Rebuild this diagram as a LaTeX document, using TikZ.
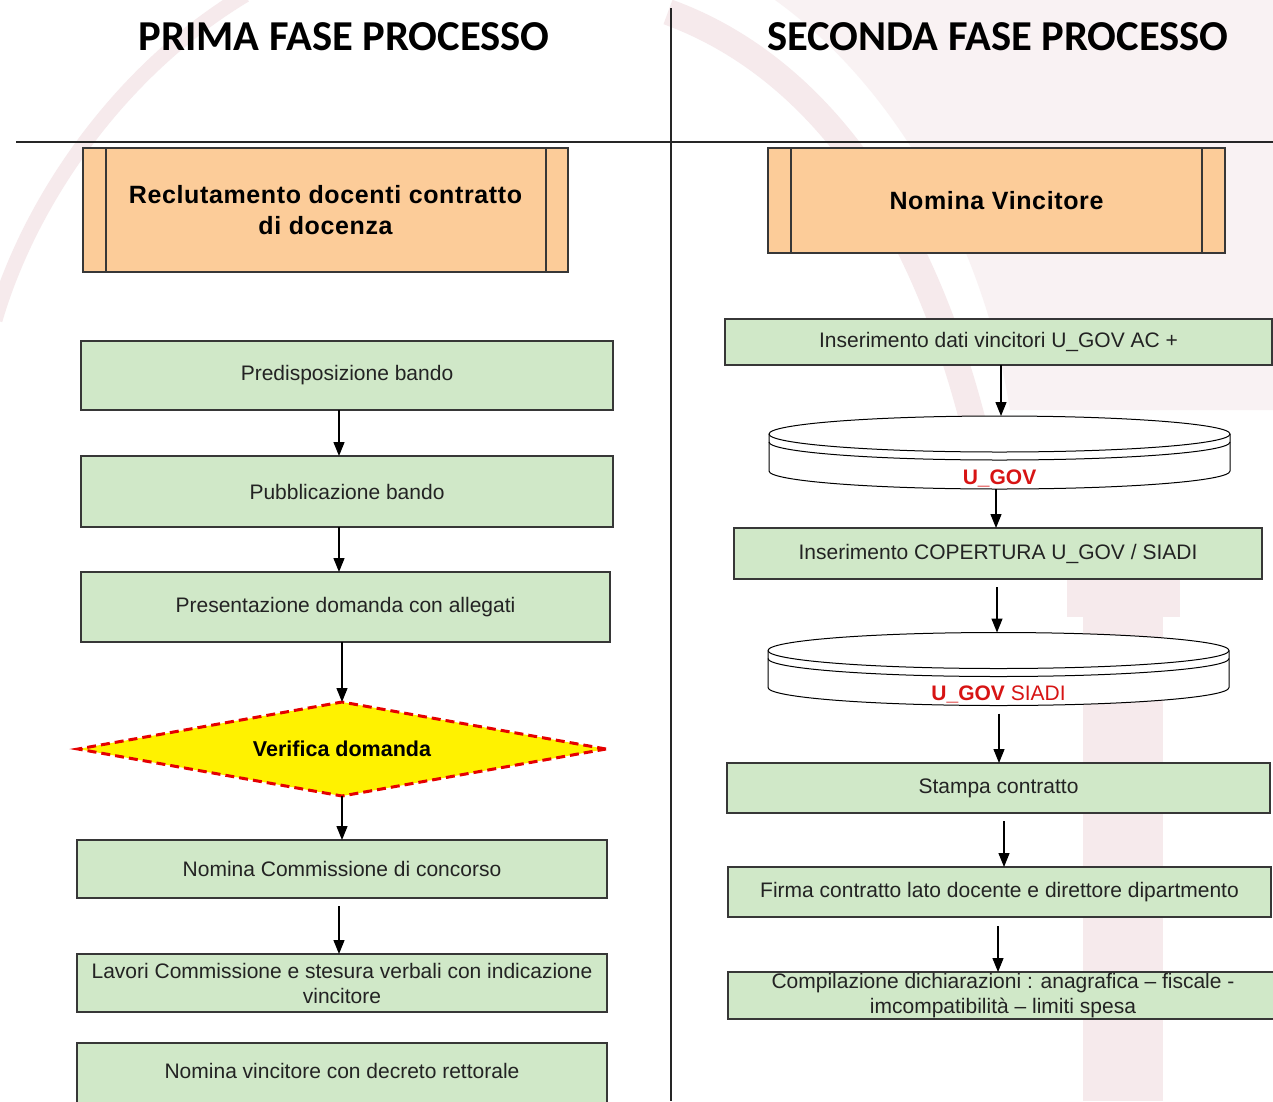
\documentclass[tikz,border=0pt]{standalone}
\usepackage{fontspec}
\setmainfont{Liberation Sans}
\newfontfamily\titlefont{Carlito}
\usetikzlibrary{arrows.meta,shapes.geometric}
\definecolor{boxgreen}{RGB}{208,232,200}
\definecolor{boxorange}{RGB}{252,204,153}
\definecolor{boxline}{RGB}{55,55,55}
\definecolor{txtcol}{RGB}{35,35,35}
\definecolor{wmpink}{RGB}{246,234,236}
\definecolor{wmlight}{RGB}{249,242,243}
\definecolor{ugovred}{RGB}{215,20,20}
\newcommand{\drawdisk}[2]{%
  \begin{scope}[shift={(#1,#2)}]
    \path[fill=white,draw=black,line width=1pt] (-230.5,18) -- (-230.5,55)
      arc[start angle=180,end angle=360,x radius=230.5pt,y radius=18pt]
      -- (230.5,18)
      arc[start angle=0,end angle=180,x radius=230.5pt,y radius=18pt] -- cycle;
    \draw[line width=1pt] (-230.5,18) arc[start angle=180,end angle=360,x radius=230.5pt,y radius=18pt];
    \draw[line width=1pt] (-230.5,26) arc[start angle=180,end angle=360,x radius=230.5pt,y radius=18pt];
  \end{scope}}
\begin{document}
\begin{tikzpicture}[x=1pt,y=-1pt,
  greenbox/.style={draw=boxline,fill=boxgreen,line width=1.2pt,inner sep=0,outer sep=0,
    align=center,text=txtcol,font=\fontsize{21}{25}\selectfont},
  orangebox/.style={draw=boxline,fill=boxorange,line width=1.2pt,inner sep=0,outer sep=0,
    align=center,text=black,font=\fontsize{25}{31}\selectfont\bfseries\addfontfeature{LetterSpace=2.5}},
  titletext/.style={font=\titlefont\fontsize{42.6}{48}\selectfont\bfseries,text=black,inner sep=0},
  diskbox/.style={minimum width=461,minimum height=73,inner sep=0,outer sep=0},
  disklabel/.style={font=\fontsize{21}{25}\selectfont,text=ugovred,inner sep=0,anchor=south,yshift=2pt},
  arr/.style={line width=1.3pt,-{Triangle[width=11pt,length=14pt]}},
  sep/.style={line width=1.3pt,draw=black!85}]
\clip (0,0) rectangle (1273,1101);
\fill[white] (0,0) rectangle (1273,1101);
% watermark
\fill[wmlight] (775,0) -- (1273,0) -- (1273,410) -- (1010,410)
  .. controls (985,250) and (900,90) .. (775,0) -- cycle;
\draw[wmpink,line width=15pt] (-5,320) .. controls (30,200) and (120,70) .. (245,-5);
\draw[wmpink,line width=26pt] (668,12) .. controls (800,60) and (915,190) .. (975,430);
\fill[wmpink] (1067,577) rectangle (1180,617);
\fill[wmpink] (1083,617) rectangle (1163,1101);
% titles and separators
\node[titletext] (t1) at (344,37) {PRIMA FASE PROCESSO};
\node[titletext] (t2) at (998,37) {SECONDA FASE PROCESSO};
\coordinate (hl) at (16,142);
\coordinate (hr) at (1273,142);
\coordinate (vt) at (671,8);
\coordinate (vb) at (671,1101);
\draw[sep] (hl) -- (hr);
\draw[sep] (vt) -- (vb);
% left column
\node[orangebox,minimum width=485,minimum height=124] (o1) at (325.5,210)
  {Reclutamento docenti contratto\\di docenza};
\draw[line width=1.2pt,boxline] ([xshift=23pt]o1.north west) -- ([xshift=23pt]o1.south west);
\draw[line width=1.2pt,boxline] ([xshift=-22pt]o1.north east) -- ([xshift=-22pt]o1.south east);
\node[greenbox,minimum width=532,minimum height=69] (p1) at (347,375.5) {Predisposizione bando};
\node[greenbox,minimum width=532,minimum height=71] (p2) at (347,491.5) {Pubblicazione bando};
\node[greenbox,minimum width=529,minimum height=70] (p3) at (345.5,607) {Presentazione domanda con allegati};
\node[diamond,draw=red!90!black,fill=yellow,line width=3pt,dash pattern=on 9pt off 5pt,
  minimum width=528,minimum height=94,inner sep=0,outer sep=0,aspect=5.6,
  font=\fontsize{21.5}{25}\selectfont\bfseries] (dia) at (342,749) {Verifica domanda};
\node[greenbox,minimum width=530,minimum height=58] (q5) at (342,869) {Nomina Commissione di concorso};
\node[greenbox,minimum width=530,minimum height=58] (q6) at (342,983)
  {Lavori Commissione e stesura verbali con indicazione\\vincitore};
\node[greenbox,minimum width=530,minimum height=80,text depth=24pt] (q7) at (342,1083)
  {Nomina vincitore con decreto rettorale};
\draw[arr] ([xshift=-8pt]p1.south) -- ([xshift=-8pt]p2.north);
\draw[arr] ([xshift=-8pt]p2.south) -- ([xshift=-6.5pt]p3.north);
\draw[arr] ([xshift=-3.5pt]p3.south) -- (dia.north);
\draw[arr] (dia.south) -- (q5.north);
\draw[arr] ([xshift=-3pt,yshift=-8pt]q5.south) -- ([xshift=-3pt]q6.north);
% right column
\node[orangebox,minimum width=457,minimum height=105] (o2) at (996.5,200.5) {Nomina Vincitore};
\draw[line width=1.2pt,boxline] ([xshift=23pt]o2.north west) -- ([xshift=23pt]o2.south west);
\draw[line width=1.2pt,boxline] ([xshift=-23pt]o2.north east) -- ([xshift=-23pt]o2.south east);
\node[greenbox,minimum width=547,minimum height=46] (r1) at (998.5,342) {Inserimento dati vincitori U\_GOV AC +};
\node[diskbox] (d1) at (999.5,452.5) {};
\drawdisk{999.5}{416}
\node[disklabel] (d1l) at (d1.south) {\bfseries U\_GOV};
\node[greenbox,minimum width=528,minimum height=51] (r2) at (998,553.5) {Inserimento COPERTURA U\_GOV / SIADI};
\node[diskbox] (d2) at (998.5,669) {};
\drawdisk{998.5}{632.5}
\node[disklabel] (d2l) at (d2.south) {{\bfseries U\_GOV} SIADI};
\node[greenbox,minimum width=543,minimum height=50] (r3) at (998.5,788) {Stampa contratto};
\node[greenbox,minimum width=543,minimum height=50] (r4) at (999.5,892) {Firma contratto lato docente e direttore dipartmento};
\node[greenbox,minimum width=550,minimum height=47] (r5) at (1003,995.5)
  {Compilazione dichiarazioni : anagrafica -- fiscale -\\imcompatibilità  -- limiti spesa};
\draw[arr] ([xshift=2.5pt]r1.south) -- ([xshift=1.5pt]d1.north);
\draw[arr] ([xshift=-3.5pt]d1.south) -- ([xshift=-2pt]r2.north);
\draw[arr] ([xshift=-1pt,yshift=-8pt]r2.south) -- ([xshift=-1.5pt]d2.north);
\draw[arr] ([xshift=0.5pt,yshift=-8pt]d2.south) -- ([xshift=0.5pt]r3.north);
\draw[arr] ([xshift=5.5pt,yshift=-8pt]r3.south) -- ([xshift=4.5pt]r4.north);
\draw[arr] ([xshift=-1.5pt,yshift=-9pt]r4.south) -- ([xshift=-5pt]r5.north);
\end{tikzpicture}
\end{document}
